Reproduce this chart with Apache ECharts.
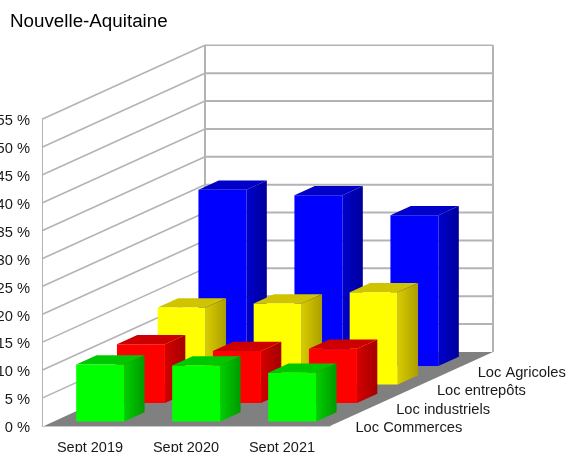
<!DOCTYPE html>
<html>
<head>
<meta charset="utf-8">
<style>
  html, body { margin: 0; padding: 0; background: #fff; }
  #ec { width: 569px; height: 452px; }
</style>
<script src="https://cdn.jsdelivr.net/npm/echarts@6/dist/echarts.min.js"></script>
</head>
<body>
<div id="ec"></div>
<script>
var categories = ["Sept 2019", "Sept 2020", "Sept 2021"];
var depthLabels = ["Loc Commerces", "Loc industriels", "Loc entrepôts", "Loc Agricoles"];
var yTicks = [0, 5, 10, 15, 20, 25, 30, 35, 40, 45, 50, 55];
var commerces = [10.2, 10.0, 8.7];
var industriels = [10.5, 9.3, 9.7];
var entrepots = [13.8, 14.5, 16.5];
var agricoles = [31.6, 30.6, 27.0];

// oblique projection: one depth slot moves a point by this many pixels
var DX = 40.75;
var DY = 18.5;
var FONT = '"Liberation Sans", Arial, sans-serif';
var GRID_LINE = "#b3b3b3";

function toRows(values) {
  return values.map(function (v, i) {
    return [i, v];
  });
}

function renderWalls(params, api) {
  var v = api.value(1);
  var bw = api.size([1, 0])[0];
  var p = api.coord([0, v]);
  var x0 = p[0] - bw / 2;
  var xFrontRight = x0 + bw * categories.length;
  var n = depthLabels.length;
  var backX = x0 + n * DX;
  var backRight = xFrontRight + n * DX;
  var backY = p[1] - n * DY;
  var children = [];
  if (v === 0) {
    var topY = api.coord([0, yTicks[yTicks.length - 1]])[1];
    children.push({
      type: "polygon",
      shape: { points: [[x0 + 2, p[1]], [xFrontRight, p[1]], [backRight, backY], [backX, backY]] },
      style: { fill: "#808080" },
    });
    children.push({
      type: "line",
      shape: { x1: backX, y1: backY, x2: backX, y2: topY - n * DY },
      style: { stroke: GRID_LINE, lineWidth: 2 },
    });
    children.push({
      type: "line",
      shape: { x1: backRight, y1: backY, x2: backRight, y2: topY - n * DY },
      style: { stroke: GRID_LINE, lineWidth: 2 },
    });
  } else {
    children.push({
      type: "line",
      shape: { x1: x0, y1: p[1], x2: backX, y2: backY },
      style: { stroke: GRID_LINE, lineWidth: 1.6 },
    });
    children.push({
      type: "line",
      shape: { x1: backX, y1: backY, x2: backRight, y2: backY },
      style: { stroke: GRID_LINE, lineWidth: v === yTicks[yTicks.length - 1] ? 1.4 : 2 },
    });
  }
  return { type: "group", children: children };
}

function renderDepthLabels(params, api) {
  var bw = api.size([1, 0])[0];
  var p = api.coord([categories.length - 1, 0]);
  var z = params.dataIndex + 0.5;
  return {
    type: "text",
    style: {
      x: p[0] + bw / 2 + z * DX + 5,
      y: p[1] - z * DY + 11.5,
      text: depthLabels[params.dataIndex],
      fill: "#1a1a1a",
      font: "14.7px " + FONT,
      textAlign: "left",
      textVerticalAlign: "middle",
    },
  };
}

// one box per value, depth is the slot of the series front to back
function barRenderer(depth, front, side1, side2, top) {
  return function (params, api) {
    var bw = api.size([1, 0])[0];
    var base = api.coord([api.value(0), 0]);
    var head = api.coord([api.value(0), api.value(1)]);
    var zf = depth + 0.25;
    var zb = depth + 0.75;
    var xl = base[0] - bw / 4 + zf * DX;
    var xr = base[0] + bw / 4 + zf * DX;
    var yb = base[1] - zf * DY;
    var yt = head[1] - zf * DY;
    var ddx = (zb - zf) * DX;
    var ddy = (zb - zf) * DY;
    return {
      type: "group",
      children: [
        {
          type: "polygon",
          shape: { points: [[xl, yt], [xr, yt], [xr + ddx, yt - ddy], [xl + ddx, yt - ddy]] },
          style: { fill: top },
        },
        {
          type: "polygon",
          shape: { points: [[xr, yb], [xr + ddx, yb - ddy], [xr + ddx, yt - ddy], [xr, yt]] },
          style: {
            fill: new echarts.graphic.LinearGradient(0, 0, 1, 0, [
              { offset: 0, color: side1 },
              { offset: 1, color: side2 },
            ]),
          },
        },
        {
          type: "rect",
          shape: { x: xl, y: yt, width: xr - xl, height: yb - yt },
          style: { fill: front },
        },
      ],
    };
  };
}

var myChart = echarts.init(document.getElementById("ec"));
myChart.setOption({
  animation: false,
  title: {
    text: "Nouvelle-Aquitaine",
    left: 10,
    top: 12,
    padding: 0,
    textStyle: { fontFamily: FONT, fontSize: 18.8, fontWeight: "normal", color: "#000" },
  },
  grid: { left: 42, top: 119.3, width: 288, height: 306.7, outerBoundsMode: "none" },
  xAxis: {
    type: "category",
    data: categories,
    axisLine: { lineStyle: { color: "#c8c8c8", width: 1 } },
    axisTick: { show: false },
    axisLabel: { fontFamily: FONT, fontSize: 14.5, color: "#1a1a1a", margin: 14 },
  },
  yAxis: {
    type: "value",
    min: 0,
    max: 55,
    interval: 5,
    axisLine: { show: true, lineStyle: { color: GRID_LINE, width: 1 } },
    axisTick: { show: false },
    splitLine: { show: false },
    axisLabel: {
      formatter: "{t|{value} %}",
      margin: 12,
      rich: {
        t: { fontFamily: FONT, fontSize: 14.7, color: "#1a1a1a", padding: [4, 0, 0, 0] },
      },
    },
  },
  series: [
    { type: "custom", silent: true, renderItem: renderWalls, data: yTicks.map(function (v) { return [0, v]; }) },
    { type: "custom", silent: true, renderItem: renderDepthLabels, data: toRows(depthLabels.map(function () { return 0; })) },
    { type: "custom", name: depthLabels[3], renderItem: barRenderer(3, "#0000ff", "#0000cc", "#00009c", "#0000c8"), data: toRows(agricoles) },
    { type: "custom", name: depthLabels[2], renderItem: barRenderer(2, "#ffff00", "#d8cc00", "#ac9e00", "#d0c400"), data: toRows(entrepots) },
    { type: "custom", name: depthLabels[1], renderItem: barRenderer(1, "#ff0000", "#d40000", "#a40000", "#cc0000"), data: toRows(industriels) },
    { type: "custom", name: depthLabels[0], renderItem: barRenderer(0, "#00ff00", "#00d000", "#009a00", "#00c800"), data: toRows(commerces) },
  ],
});
</script>
</body>
</html>
